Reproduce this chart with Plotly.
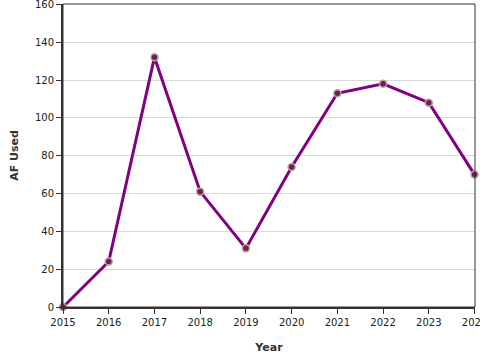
import plotly.graph_objects as go

years = [2015, 2016, 2017, 2018, 2019, 2020, 2021, 2022, 2023, 2024]
af_used = [0, 24, 132, 61, 31, 74, 113, 118, 108, 70]
y_ticks = [0, 20, 40, 60, 80, 100, 120, 140, 160]

fig = go.Figure()
fig.add_trace(go.Scatter(
    x=years, y=af_used, mode="lines+markers",
    line=dict(color="#800080", width=3),
    marker=dict(size=7, color="#6a1f5e", line=dict(color="#b8a690", width=1.5)),
    cliponaxis=False, showlegend=False,
))

fig.update_layout(
    template="none",
    width=480, height=360,
    margin=dict(l=63, r=5, t=4, b=53),
    paper_bgcolor="white", plot_bgcolor="white",
    font=dict(family="DejaVu Sans", size=10, color="#222"),
    xaxis=dict(
        range=[2015, 2024.01], tickvals=years, ticktext=[str(y) for y in years],
        showgrid=False, zeroline=False, automargin=False, ticklabeloverflow="allow",
        showline=True, linecolor="#333", linewidth=2,
        ticks="outside", ticklen=5, tickcolor="#333", tickwidth=1,
        title=dict(text="<b>Year</b>", font=dict(size=11, color="#333"), standoff=16),
    ),
    yaxis=dict(
        range=[0, 160.2], tickvals=y_ticks,
        showgrid=True, gridcolor="#d9d9d9", gridwidth=1, zeroline=False, automargin=False,
        ticklabeloverflow="allow",
        showline=True, linecolor="#333", linewidth=2,
        ticks="outside", ticklen=5, tickcolor="#333", tickwidth=1,
        title=dict(text="<b>AF Used</b>", font=dict(size=11, color="#333"), standoff=14),
    ),
    shapes=[dict(type="rect", xref="paper", yref="paper", x0=0, y0=0, x1=1, y1=1,
                 line=dict(color="#333", width=1), layer="above")],
)

fig.write_html("out.html", config={"displayModeBar": False},
               post_script="document.body.style.margin='0';document.body.style.overflow='hidden';")
